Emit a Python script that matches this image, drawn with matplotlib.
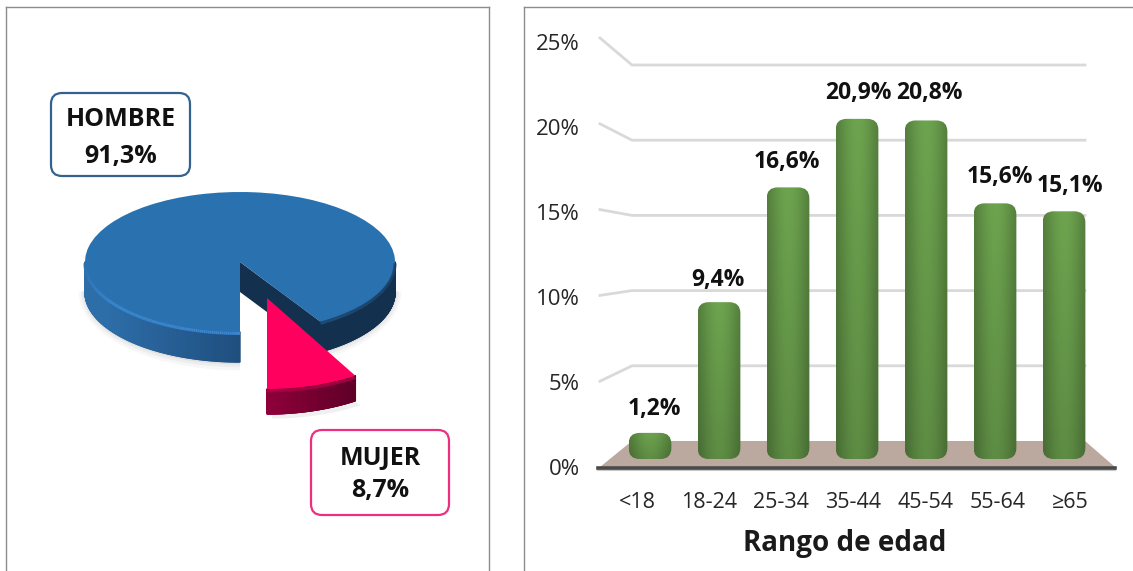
import numpy as np
import matplotlib
matplotlib.use("Agg")
import matplotlib.pyplot as plt
from matplotlib.patches import FancyBboxPatch, Polygon
from matplotlib.collections import PolyCollection, LineCollection

plt.rcParams['font.family'] = ['Open Sans', 'DejaVu Sans']

# ---- data
sex_labels = ['HOMBRE', 'MUJER']
sex_values = [91.3, 8.7]
age_groups = ['<18', '18-24', '25-34', '35-44', '45-54', '55-64', '≥65']
age_values = [1.2, 9.4, 16.6, 20.9, 20.8, 15.6, 15.1]
y_ticks = [0, 5, 10, 15, 20, 25]

W, H = 1133, 571
fig = plt.figure(figsize=(W / 100, H / 100), dpi=100, facecolor='white')


def rect(x0, y0, x1, y1):
    """Axes rectangle from pixel box (y measured from the top)."""
    return [x0 / W, 1 - y1 / H, (x1 - x0) / W, (y1 - y0) / H]


def es(v):
    return f"{v:.1f}".replace('.', ',') + '%'


# ---- background canvas in pixels: panels, wall, floor
bg = fig.add_axes([0, 0, 1, 1], zorder=0)
bg.set_xlim(0, W)
bg.set_ylim(H, 0)
bg.axis('off')
panel = '#8c8c8c'
bg.plot([6, 6], [7, H], color=panel, lw=1)
bg.plot([489, 489], [7, H], color=panel, lw=1)
bg.plot([6, 489], [7, 7], color=panel, lw=1)
bg.plot([524, 524], [7, H], color=panel, lw=1)
bg.plot([524, W], [7, 7], color=panel, lw=1)


def front_y(v):
    return 467 - 17.16 * v


def back_y(v):
    return 441 - 15.04 * v


bg.add_patch(Polygon([(600, 467), (632, 441), (1085, 441), (1115, 467)],
                     closed=True, fc='#bba89e', ec='none'))
for v in y_ticks[1:]:
    bg.plot([600, 632, 1085], [front_y(v), back_y(v), back_y(v)],
            color='#d9d9d9', lw=2, solid_joinstyle='miter')
bg.plot([598, 1115], [470, 470], color='#c8c8c8', lw=1.5)
bg.plot([598, 1115], [467.5, 467.5], color='#4a4a4a', lw=2.6)

# ---- axis labels on the front edge of the chart
front = fig.add_axes(rect(600, 42, 1115, 467), zorder=1)
front.patch.set_alpha(0)
front.set_ylim(0, 25)
front.set_xlim(-37 / 72.17, 6 + 45 / 72.17)
front.set_xticks(range(len(age_groups)), age_groups, fontsize=15.5, color='#262626')
front.set_yticks(y_ticks, [f'{v}%' for v in y_ticks], fontsize=16, color='#262626')
front.tick_params(axis='y', length=0, pad=14.5)
front.tick_params(axis='x', length=0, pad=18)
for s in front.spines.values():
    s.set_visible(False)

# ---- bars
ux, uy = 69.0, 15.94
foot = 0.44
bar_ax = fig.add_axes(rect(615, 452 - uy * 25, 1100, 452 + uy * foot), zorder=2)
bar_ax.patch.set_alpha(0)
bar_ax.axis('off')
XLIM = (-0.507, 6.522)
YLIM = (-foot, 25)
bar_w = 0.62
base = np.array([0.36, 0.54, 0.26])
label_dx = [4, -1, -1, 1, 3, 5, 6]
label_dy = [24, 22, 25, 26, 27, 26, 25]
for i, v in enumerate(age_values):
    x0 = i - bar_w / 2
    box = FancyBboxPatch((x0, -foot), bar_w, v + foot,
                         boxstyle=f"round,pad=0,rounding_size={11 / ux}",
                         mutation_aspect=ux / uy, fc='none', ec='none')
    bar_ax.add_patch(box)
    u = np.linspace(0, 1, 60)
    t = np.linspace(0, 1, 160)[:, None]
    across = 0.84 + 0.24 * np.sin(np.pi * u) ** 1.2
    down = 1.10 - 0.16 * t
    shade = across[None, :] * down
    img = np.clip(shade[..., None] * base[None, None, :], 0, 1)
    im = bar_ax.imshow(img, extent=(x0, x0 + bar_w, -foot, v), aspect='auto',
                       origin='upper', interpolation='bilinear', zorder=3)
    im.set_clip_path(box)
    bar_ax.annotate(es(v), (i, v), xytext=(label_dx[i], label_dy[i]),
                    textcoords='offset pixels', ha='center', va='center',
                    fontsize=16.5, fontweight='bold', color='#111111', zorder=5)
bar_ax.set_xlim(*XLIM)
bar_ax.set_ylim(*YLIM)


# ---- pie helpers
def blend(c0, c1, f):
    c0, c1 = np.array(matplotlib.colors.to_rgb(c0)), np.array(matplotlib.colors.to_rgb(c1))
    return tuple(c0 + (c1 - c0) * f)


def side(ax, a0, a1, depth, colour_at, z=1):
    th = np.radians(np.linspace(a0, a1, 240))
    quads, cols = [], []
    for p, q in zip(th[:-1], th[1:]):
        quads.append([(np.cos(p), np.sin(p)), (np.cos(q), np.sin(q)),
                      (np.cos(q), np.sin(q) - depth), (np.cos(p), np.sin(p) - depth)])
        cols.append(colour_at(np.cos((p + q) / 2)))
    ax.add_collection(PolyCollection(quads, facecolors=cols, edgecolors=cols, lw=1, zorder=z))


def rim(ax, a0, a1, colour_at, z=5):
    th = np.radians(np.linspace(a0, a1, 120))
    x, y = np.cos(th), np.sin(th) - 0.02
    segs = [[(x[j], y[j]), (x[j + 1], y[j + 1])] for j in range(len(th) - 1)]
    cols = [colour_at(np.degrees(th[j])) for j in range(len(th) - 1)]
    ax.add_collection(LineCollection(segs, colors=cols, linewidths=2.2, zorder=z))


split = 360 * sex_values[1] / 100  # angular size of the MUJER slice
start = 270 + split

# ---- HOMBRE
pie_a = fig.add_axes(rect(240 - 186, 262 - 84, 240 + 186, 262 + 112), zorder=3)
wed, _ = pie_a.pie([sex_values[0] / 100], radius=1, startangle=start, normalize=False,
                   colors=['#2a71b0'], wedgeprops=dict(lw=0))
wed[0].set_zorder(4)
pie_a.set_aspect('auto')
pie_a.set_xlim(-1.2, 1.2)
pie_a.set_ylim(-1.6, 1.2)
d_blue = 30 / 70

# soft shadow
for k, a in zip([0.04, 0.025, 0.012], [0.03, 0.04, 0.05]):
    for a0, a1 in ((180, 270), (start, 360)):
        th = np.radians(np.linspace(a0, a1, 40))
        pts = [(0, 0.3)] + [((1 + k) * np.cos(p), (1 + 3 * k) * np.sin(p) - d_blue) for p in th]
        pie_a.add_patch(Polygon(pts, closed=True, fc='black', ec='none', alpha=a, zorder=0))

# outer wall, left and right of the gap
side(pie_a, 180, 270, d_blue, lambda c: blend('#1f4f7f', '#2d6ea9', min(1, -c * 1.15)))
side(pie_a, start, 360, d_blue, lambda c: '#14304f')
# exposed cut face
rx, ry = np.cos(np.radians(start)), np.sin(np.radians(start))
pie_a.add_patch(Polygon([(0, 0), (rx, ry), (rx, ry - d_blue), (0, -d_blue)],
                        closed=True, fc='#14304f', ec='none', zorder=2))
# rim highlight, fading towards the sides of the pie
rim(pie_a, 180, 270, lambda a: blend('#2a71b0', '#3a86cf', min(1, (a - 180) / 35)))
rim(pie_a, start, 360, lambda a: blend('#214f7c', '#1d4366', (a - start) / (360 - start)))

# ---- MUJER (pulled out of the pie)
pie_b = fig.add_axes(rect(250, 280, 403, 421), zorder=4)
wed_b, _ = pie_b.pie([sex_values[1] / 100], radius=1, startangle=270, normalize=False,
                     colors=['#ff005f'], wedgeprops=dict(lw=0))
wed_b[0].set_zorder(4)
pie_b.set_aspect('auto')
pie_b.set_xlim(-17 / 170, 136 / 170)
pie_b.set_ylim(-123 / 91, 18 / 91)
d_pink = 25 / 91
th = np.radians(np.linspace(270, start, 30))
pts = [(np.cos(p) + 0.03, np.sin(p) - d_pink - 0.05) for p in th]
pie_b.add_patch(Polygon([(0.03, -0.5)] + pts, closed=True, fc='black', ec='none', alpha=0.06, zorder=0))
side(pie_b, 270, start, d_pink, lambda c: blend('#8f003a', '#5c0026', c / 0.55))
rim(pie_b, 270, start, lambda a: '#b0004a')

# ---- callouts and panel caption
top = fig.add_axes([0, 0, 1, 1], zorder=6)
top.patch.set_alpha(0)
top.set_xlim(0, W)
top.set_ylim(H, 0)
top.axis('off')
top.add_patch(FancyBboxPatch((51, 93), 139, 83, boxstyle="round,pad=0,rounding_size=11",
                             fc='white', ec='#34628f', lw=1.6))
top.add_patch(FancyBboxPatch((311, 430), 138, 85, boxstyle="round,pad=0,rounding_size=11",
                             fc='white', ec='#ee2f7f', lw=1.6))
top.text(120.5, 119, sex_labels[0], ha='center', va='center', fontsize=18, fontweight='bold', color='#111111')
top.text(121, 156, es(sex_values[0]), ha='center', va='center', fontsize=18, fontweight='bold', color='#111111')
top.text(380, 458, sex_labels[1], ha='center', va='center', fontsize=18, fontweight='bold', color='#111111')
top.text(380, 491, es(sex_values[1]), ha='center', va='center', fontsize=18, fontweight='bold', color='#111111')
top.text(845, 543, 'Rango de edad', ha='center', va='center', fontsize=20, fontweight='bold', color='#1a1a1a')

fig.savefig('out.png', dpi=100, facecolor='white')
